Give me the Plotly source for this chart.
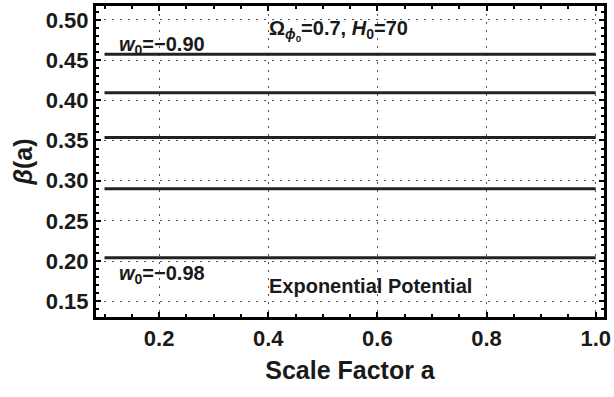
import plotly.graph_objects as go

# Scale factor range and constant beta(a) levels for each w0
a_start, a_end = 0.1, 1.0
beta_levels = [0.4574, 0.4094, 0.3538, 0.2899, 0.2042]
w0_labels = ["−0.90", "−0.98"]

x_ticks = [0.2, 0.4, 0.6, 0.8, 1.0]
x_ticklabels = ["0.2", "0.4", "0.6", "0.8", "1.0"]
y_ticks = [0.15, 0.20, 0.25, 0.30, 0.35, 0.40, 0.45, 0.50]
y_ticklabels = ["0.15", "0.20", "0.25", "0.30", "0.35", "0.40", "0.45", "0.50"]

FONT = "Liberation Sans, Arial, Helvetica, sans-serif"

fig = go.Figure()
for b in beta_levels:
    fig.add_trace(go.Scatter(
        x=[a_start, a_end], y=[b, b], mode="lines",
        line=dict(color="#222222", width=3), showlegend=False, hoverinfo="skip",
    ))

axis_common = dict(
    showline=True, linecolor="black", linewidth=3, mirror="allticks",
    ticks="inside", tickcolor="black", tickwidth=2,
    showgrid=True, gridcolor="#555555", gridwidth=1.2, griddash="2px,6px",
    zeroline=False,
    tickfont=dict(family=FONT, size=22, color="#1a1a1a", weight="bold"),
)

fig.update_xaxes(
    range=[0.0844, 1.0152], tickvals=x_ticks, ticktext=x_ticklabels, ticklen=5,
    minor=dict(dtick=0.05, tick0=0, ticks="inside", ticklen=3, tickwidth=2, tickcolor="black", showgrid=False),
    title=dict(text="<b>Scale Factor a</b>", font=dict(family=FONT, size=25, color="#1a1a1a"), standoff=12),
    **axis_common,
)
fig.update_yaxes(
    range=[0.1304, 0.5173], tickvals=y_ticks, ticktext=y_ticklabels, ticklen=5,
    minor=dict(dtick=0.01, tick0=0, ticks="inside", ticklen=3, tickwidth=2, tickcolor="black", showgrid=False),
    title=dict(text="<b><i>β</i>(a)</b>", font=dict(family=FONT, size=25, color="#1a1a1a"), standoff=7),
    **axis_common,
)

ann_font = dict(family=FONT, size=20, color="#1a1a1a")
annotations = [
    dict(x=0.1227, y=0.4685, text=f"<b><i>w</i><sub>0</sub>={w0_labels[0]}</b>", xanchor="left"),
    dict(x=0.1227, y=0.1832, text=f"<b><i>w</i><sub>0</sub>={w0_labels[1]}</b>", xanchor="left"),
    dict(x=0.3975, y=0.4874, text="<b>Ω<sub><i>ϕ</i><sub>0</sub></sub>=0.7, <i>H</i><sub>0</sub>=70</b>", xanchor="left"),
    dict(x=0.3975, y=0.169, text="<b>Exponential Potential</b>", xanchor="left"),
]
for ann in annotations:
    fig.add_annotation(xref="x", yref="y", showarrow=False, yanchor="middle",
                       font=ann_font, **ann)

fig.update_layout(
    width=614, height=397,
    margin=dict(l=96, r=8, t=3, b=80),
    plot_bgcolor="white", paper_bgcolor="white",
)

fig.write_html("out.html")
